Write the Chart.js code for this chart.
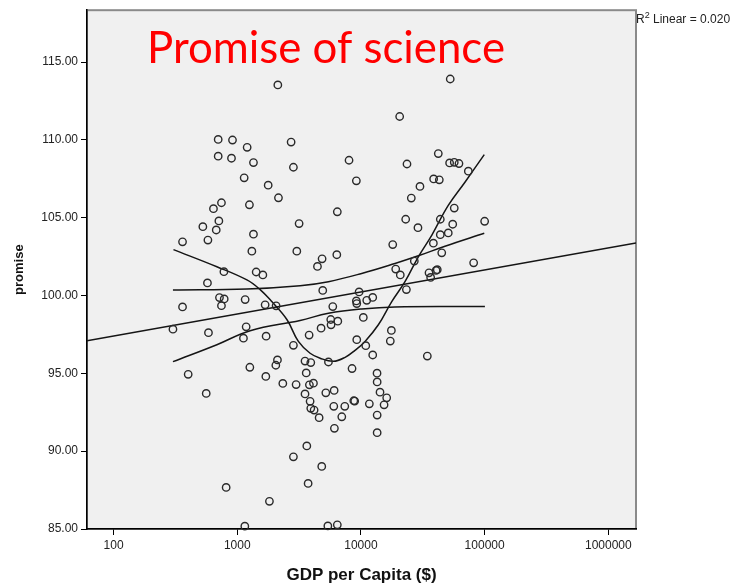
<!DOCTYPE html>
<html>
<head>
<meta charset="utf-8">
<script src="https://cdn.jsdelivr.net/npm/chart.js@4.4.1/dist/chart.umd.min.js"></script>
<style>
  body { margin: 0; background: #fff; }
  canvas { display: block; }
</style>
</head>
<body>
<canvas id="myChart" width="740" height="587"></canvas>
<script>
// scatter data
const gdp = [2128,701,915,1202,2725,701,898,1352,2844,1137,1778,2153,745,642,1254,3162,710,527,676,1352,361,579,1312,3030,780,1422,1610,574,718,784,1158,361,745,1680,2061,302,585,1180,1122,1711,2844,401,561,1264,2113,2050,1702,2335,2990,2844,813,1820,1151,
  52700,20560,8010,23560,42200,52100,56800,62000,73800,9180,38700,43000,30000,25530,6440,23000,28900,56800,43800,55200,100000,43800,50800,38500,18070,6380,4850,4450,45000,27000,81500,19100,20800,35500,40500,41400,36600,4910,9660,23300,12450,11140,9180,
  9250,5920,5700,6500,10450,4760,5730,3810,9250,10940,17620,17270,12450,34400,3530,3930,5460,8470,3610,13490,13520,3830,4130,3530,5200,6070,14260,16150,15380,3880,3930,4180,6030,7400,8750,8900,11690,4590,7000,13520,6100,13520,3650,4820,3740,5400,6440];
const promise = [113.53,110.03,109.99,109.52,109.86,108.95,108.82,108.54,108.24,107.56,107.09,106.28,105.96,105.58,105.83,104.62,104.79,104.42,104.21,103.94,103.45,103.56,102.85,102.85,101.53,101.51,101.32,100.81,99.87,99.78,99.74,99.27,99.35,99.40,99.34,97.84,97.61,97.99,97.26,97.39,96.80,94.94,93.71,95.39,95.86,95.52,94.80,94.35,94.28,89.64,87.67,86.78,85.18,
  113.91,111.50,108.69,108.45,109.12,108.52,108.56,108.48,107.99,107.37,107.49,107.43,107.01,106.26,105.38,104.90,104.36,105.62,104.90,104.58,104.77,103.91,104.02,103.36,103.27,102.62,102.36,101.87,102.74,102.21,102.10,101.70,101.32,101.46,101.61,101.66,101.16,100.33,100.23,100.38,99.88,99.69,99.65,
  99.48,99.29,98.46,98.35,98.59,97.90,98.12,97.46,97.16,96.78,97.76,97.07,96.18,96.11,95.79,95.69,95.73,95.31,95.03,95.01,94.45,94.26,94.37,93.68,93.75,93.90,93.79,93.43,92.98,93.20,92.75,92.64,92.88,92.88,93.24,93.22,93.04,92.15,92.21,92.32,91.47,91.19,90.34,89.02,87.93,85.20,85.27];

// fit lines
const linX = [60.97, 1674000];
const linY = [97.10, 103.38];
const upperX = [302,1197,3221,5460,10140,18840,29100,47800,99300];
const upperY = [100.36,100.42,100.63,100.89,101.42,102.06,102.55,103.17,104.00];
const lowerX = [302,684,1271,3221,5460,10140,18840,100500];
const lowerY = [95.75,96.84,97.74,98.40,98.86,99.14,99.27,99.29];
const loessX = [305,684,1197,1531,1901,2518,3119,3880,4677,5984,7447,8954,10790,13830,17740,22700,29100,37330,50800,69300,99300];
const loessY = [102.95,101.85,101.00,100.38,99.61,98.46,97.05,96.29,95.97,95.77,96.03,96.48,97.05,98.12,99.61,100.89,102.49,103.87,105.79,107.28,109.05];

const xTicks = [100,1000,10000,100000,1000000];
const yTicks = [85,90,95,100,105,110,115];

function pts(xs, ys) {
    return xs.map((x, i) => ({x: x, y: ys[i]}));
}

function lineSet(xs, ys, tension) {
    return {
        data: pts(xs, ys),
        showLine: true,
        borderColor: '#151515',
        borderWidth: 1.5,
        pointRadius: 0,
        tension: tension,
        fill: false
    };
}

const bgPlugin = {
    id: 'bg',
    beforeDraw(chart) {
        const c = chart.ctx, a = chart.chartArea;
        c.save();
        c.fillStyle = '#f0f0f0';
        c.fillRect(a.left, a.top, a.right - a.left, a.bottom - a.top);
        c.strokeStyle = '#8a8a8a';
        c.lineWidth = 2;
        c.strokeRect(a.left, a.top, a.right - a.left, a.bottom - a.top);
        c.restore();
    },
    afterDraw(chart) {
        const c = chart.ctx;
        c.save();
        // title inside the plot
        c.fillStyle = '#ff0000';
        c.font = '44px Lato';
        c.textBaseline = 'alphabetic';
        c.fillText('Promise of science', 147, 63, 358);
        // R2 note
        c.fillStyle = '#222';
        c.font = '12px "Liberation Sans"';
        c.fillText('R', 636, 23);
        let w = c.measureText('R').width;
        c.font = '9px "Liberation Sans"';
        c.fillText('2', 636 + w, 18);
        let w2 = c.measureText('2').width;
        c.font = '12px "Liberation Sans"';
        c.fillText(' Linear = 0.020', 636 + w + w2, 23);
        c.restore();
    }
};

const ctx = document.getElementById('myChart').getContext('2d');
new Chart(ctx, {
    type: 'scatter',
    data: {
        datasets: [
            {
                data: pts(gdp, promise),
                pointStyle: 'circle',
                pointRadius: 3.7,
                pointBorderWidth: 1.4,
                pointBorderColor: '#2a2a2a',
                pointBackgroundColor: 'rgba(0,0,0,0)',
                clip: 6
            },
            lineSet(linX, linY, 0),
            lineSet(upperX, upperY, 0.4),
            lineSet(lowerX, lowerY, 0.4),
            lineSet(loessX, loessY, 0.4)
        ]
    },
    options: {
        responsive: false,
        animation: false,
        layout: { padding: { left: 0, top: 7, right: 104, bottom: 0 } },
        plugins: {
            legend: { display: false },
            tooltip: { enabled: false }
        },
        scales: {
            x: {
                type: 'logarithmic',
                min: 60.97,
                max: 1674000,
                afterBuildTicks: (s) => { s.ticks = xTicks.map(v => ({value: v})); },
                afterFit: (s) => { s.height = 58; },
                ticks: {
                    callback: (v) => String(v),
                    font: { family: 'Liberation Sans', size: 12 },
                    color: '#222',
                    padding: 3,
                    maxRotation: 0,
                    autoSkip: false
                },
                grid: { drawOnChartArea: false, drawTicks: true, tickLength: 6, color: '#000' },
                border: { display: true, color: '#000', width: 1.5 },
                title: {
                    display: true,
                    text: 'GDP per Capita ($)',
                    font: { family: 'Liberation Sans', size: 17, weight: 'bold' },
                    color: '#111',
                    padding: { top: 2, bottom: 1 }
                }
            },
            y: {
                min: 85,
                max: 118.33,
                afterBuildTicks: (s) => { s.ticks = yTicks.map(v => ({value: v})); },
                afterFit: (s) => { s.width = 87; },
                ticks: {
                    callback: (v) => v.toFixed(2),
                    font: { family: 'Liberation Sans', size: 12 },
                    color: '#222',
                    padding: 3
                },
                grid: { drawOnChartArea: false, drawTicks: true, tickLength: 6, color: '#000' },
                border: { display: true, color: '#000', width: 1.5 },
                title: {
                    display: true,
                    text: 'promise',
                    font: { family: 'Liberation Sans', size: 13, weight: 'bold' },
                    color: '#111',
                    padding: { top: 12, bottom: 0 }
                }
            }
        }
    },
    plugins: [bgPlugin]
});
</script>
</body>
</html>
